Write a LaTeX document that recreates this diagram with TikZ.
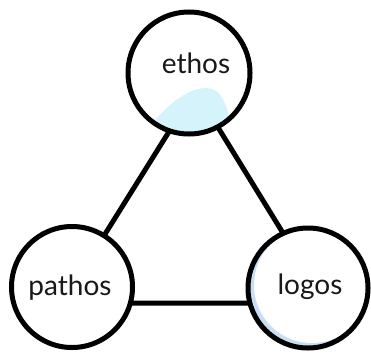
\documentclass[tikz,border=0pt]{standalone}
\usepackage{fontspec}
\setmainfont{Lato}
\begin{document}
\begin{tikzpicture}[x=1pt,y=-1pt,
  ring/.style={circle,draw=black,line width=5pt,fill=white,minimum size=121pt,inner sep=0pt},
  edge/.style={line width=5pt,draw=black},
  word/.style={anchor=base,font=\fontsize{28}{30}\selectfont,text=black!90,inner sep=0pt}]
\useasboundingbox (0,0) rectangle (371,353);
\definecolor{blobcyan}{HTML}{D4F3FB}
\definecolor{rimblue}{HTML}{C9DDF4}
% triangle corners
\coordinate (apex) at (195,90);
\coordinate (bl) at (62,303);
\coordinate (br) at (326,303);
\draw[edge,line join=miter] (apex) -- (bl) -- (br) -- cycle;
% circles
\node[ring,minimum size=122pt,path picture={
   \begin{scope}[shift={(path picture bounding box.center)}]
   \fill[blobcyan] (-54,75) .. controls (-34,42) and (-6,15) .. (17,15)
        .. controls (32,15) and (40,30) .. (46,75) -- cycle;
   \end{scope}}] (ethos) at (189,73) {};
\node[ring] (pathos) at (72,287) {};
\node[ring,minimum size=120pt,path picture={
   \begin{scope}[shift={(path picture bounding box.center)}]
   \fill[rimblue] (0,0) circle (62);
   \fill[white] (4,-3) circle (58);
   \end{scope}}] (logos) at (308,288) {};
% labels
\node[word] (tethos) at (196,73) {ethos};
\node[word] (tpathos) at (70,295) {pathos};
\node[word] (tlogos) at (310,294) {logos};
\end{tikzpicture}
\end{document}
